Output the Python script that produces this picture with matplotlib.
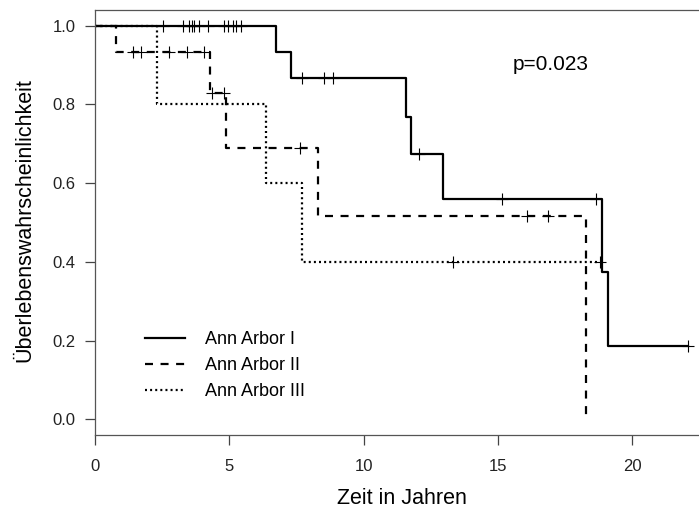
import numpy as np
import matplotlib
matplotlib.use("Agg")
from matplotlib import pyplot as plt

plt.rcParams['font.family'] = ['Liberation Sans', 'DejaVu Sans']

# Kaplan-Meier steps (years, survival)
t_I = [0, 6.74, 7.30, 11.57, 11.75, 12.97, 18.89, 19.10, 22.07]
s_I = [1.0, 0.933, 0.867, 0.769, 0.673, 0.560, 0.373, 0.187, 0.187]
cens_I = [2.54, 3.29, 3.50, 3.60, 3.70, 3.86, 4.21, 4.80, 4.94, 5.13, 5.24, 5.42,
          7.69, 8.54, 8.87, 12.07, 15.16, 18.64, 22.07]

t_II = [0, 0.77, 4.28, 4.86, 8.31, 18.27]
s_II = [1.0, 0.933, 0.830, 0.690, 0.517, 0.0]
cens_II = [1.40, 1.70, 2.76, 3.41, 4.07, 4.35, 4.82, 7.63, 16.07, 16.85]

t_III = [0, 2.30, 6.36, 7.69, 18.80]
s_III = [1.0, 0.8, 0.6, 0.4, 0.4]
cens_III = [13.33, 18.80]

labels = ["Ann Arbor I", "Ann Arbor II", "Ann Arbor III"]
p_text = "p=0.023"


def surv_at(t, times, surv):
    idx = np.searchsorted(times, t, side='right') - 1
    return np.asarray(surv)[idx]


fig = plt.figure(figsize=(6.99, 5.15), dpi=100)
W, H = 699, 515
ax = fig.add_axes([95 / W, 1 - 435 / H, 615 / W, 425 / H])

lw = 1.6
styles = [dict(ls='-'), dict(ls=(0, (3.6, 3.4))), dict(ls=(0, (0.9, 1.4)))]
groups = [(t_I, s_I, cens_I), (t_II, s_II, cens_II), (t_III, s_III, cens_III)]

# draw dotted / dashed first so the solid line sits on top
for k in [2, 1, 0]:
    t, s, c = groups[k]
    ax.step(t, s, where='post', color='black', lw=lw, label=labels[k], **styles[k])
    ax.plot(c, surv_at(np.array(c), t, s), ls='none', marker='+', ms=8,
            mew=0.8, color='black')

ax.set_xlim(0, 615 / 26.86)
ax.set_ylim(-0.04, 1.04)
ax.set_xticks([0, 5, 10, 15, 20])
ax.set_yticks([0.0, 0.2, 0.4, 0.6, 0.8, 1.0])
ax.set_yticklabels(["0.0", "0.2", "0.4", "0.6", "0.8", "1.0"])
ax.tick_params(length=7, width=0.9, color='#444', labelsize=12, colors='#222')
ax.tick_params(axis='x', pad=10)
ax.tick_params(axis='y', pad=7)
for sp in ax.spines.values():
    sp.set_color('#555')
    sp.set_linewidth(0.9)

ax.text(15.55, 0.901, p_text, fontsize=15, va='center', ha='left')

h, l = ax.get_legend_handles_labels()
order = [l.index(x) for x in labels]
ax.legend([h[i] for i in order], labels, loc='upper left',
          bbox_to_anchor=(0.07, 0.262), frameon=False, fontsize=13,
          handlelength=2.2, handletextpad=1.1, labelspacing=0.5,
          borderpad=0.4, borderaxespad=0)

fig.text(25 / W, 1 - 220 / H, "Überlebenswahrscheinlichkeit", rotation=90,
         ha='center', va='center', fontsize=15.5)
fig.text(402 / W, 1 - 499 / H, "Zeit in Jahren", ha='center', va='center',
         fontsize=15.5)

fig.savefig("out.png", dpi=100)
